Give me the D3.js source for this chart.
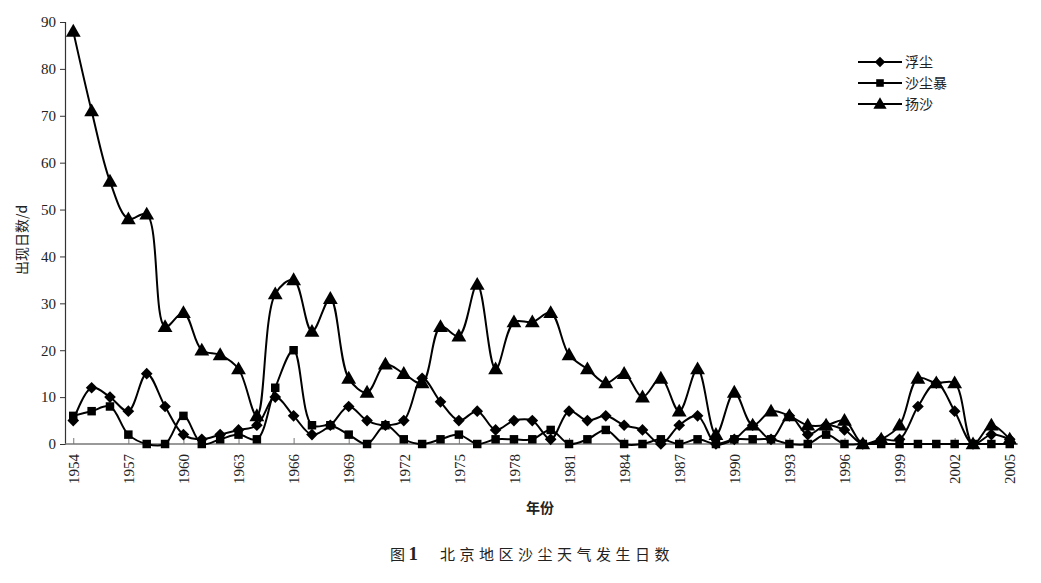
<!DOCTYPE html>
<html><head><meta charset="utf-8">
<script src="https://cdn.jsdelivr.net/npm/d3@7/dist/d3.min.js"></script>
<style>body{margin:0;background:#fff;}svg{display:block;}</style>
</head><body>
<svg id="chart" width="1041" height="583"></svg>
<script>
const years = d3.range(1954, 2006);
const fuchen = [5,12,10,7,15,8,2,1,2,3,4,10,6,2,4,8,5,4,5,14,9,5,7,3,5,5,1,7,5,6,4,3,0,4,6,0,1,4,1,6,2,4,3,0,1,1,8,13,7,0,2,1];
const shachenbao = [6,7,8,2,0,0,6,0,1,2,1,12,20,4,4,2,0,4,1,0,1,2,0,1,1,1,3,0,1,3,0,0,1,0,1,0,1,1,1,0,0,2,0,0,0,0,0,0,0,0,0,0];
const yangsha = [88,71,56,48,49,25,28,20,19,16,6,32,35,24,31,14,11,17,15,13,25,23,34,16,26,26,28,19,16,13,15,10,14,7,16,2,11,4,7,6,4,4,5,0,1,4,14,13,13,0,4,1];
const yTicks = d3.range(0, 100, 10);
const xTickYears = years.filter(y => (y - 1954) % 3 === 0 || y === 2005);
const seriesNames = ["浮尘", "沙尘暴", "扬沙"];

const svg = d3.select("#chart");
const x = d3.scalePoint().domain(years).range([65, 1018]).padding(0.45);
const y = d3.scaleLinear().domain([0, 90]).range([444, 22]);

const serif = "'Liberation Serif','DejaVu Serif',serif";
const cjk = "'Noto Sans CJK SC','Noto Sans CJK JP',sans-serif";

// Y axis
const yAx = svg.append("g").attr("transform", "translate(65,0)")
  .call(d3.axisLeft(y).tickValues(yTicks).tickSize(5).tickPadding(4));
yAx.select(".domain").attr("stroke", "#333").attr("stroke-width", 1.2);
yAx.selectAll(".tick line").attr("stroke", "#333");
yAx.selectAll("text").attr("font-family", serif).attr("font-size", 15).attr("fill", "#222");

// X axis
const xAx = svg.append("g").attr("transform", "translate(0,444)")
  .call(d3.axisBottom(x).tickValues(xTickYears).tickSize(-6).tickSizeOuter(0).tickPadding(0).tickFormat(d3.format("d")));
xAx.select(".domain").attr("stroke", "#777").attr("stroke-width", 1.5).attr("d", "M65,0H1018");
xAx.selectAll(".tick line").attr("stroke", "#777");
xAx.selectAll(".tick text")
  .attr("font-family", serif).attr("font-size", 15).attr("fill", "#222")
  .attr("transform", "rotate(-90)").attr("text-anchor", "end")
  .attr("x", -10).attr("y", 0).attr("dy", "0.35em");

// Axis titles
svg.append("text").attr("x", 540).attr("y", 513).attr("text-anchor", "middle")
  .attr("font-family", cjk).attr("font-weight", "bold").attr("font-size", 14).attr("fill", "#222").text("年份");
svg.append("text").attr("transform", "translate(27,240) rotate(-90)").attr("text-anchor", "middle")
  .attr("font-family", cjk).attr("font-size", 14).attr("fill", "#222").text("出现日数/d");

// Caption
const cap = svg.append("text").attr("x", 390).attr("y", 560).attr("font-family", cjk).attr("font-size", 15).attr("fill", "#222");
cap.append("tspan").text("图 ");
cap.append("tspan").attr("font-family", serif).attr("font-weight", "bold").attr("font-size", 19).text("1");
cap.append("tspan").attr("dx", 22).attr("letter-spacing", 4.5).text("北京地区沙尘天气发生日数");

// Lines
const line = d3.line().x((d, i) => x(years[i])).y(d => y(d)).curve(d3.curveCatmullRom.alpha(0.5));
const seriesData = [fuchen, shachenbao, yangsha];
const shapes = [d3.symbolSquare, d3.symbolSquare, d3.symbolTriangle];
const sizes = [68, 72, 95];
const rot = [45, 0, 0];
const dy = [0, 0, 1];
seriesData.forEach((vals) => {
  svg.append("path").datum(vals).attr("d", line).attr("fill", "none").attr("stroke", "#000").attr("stroke-width", 2);
});
seriesData.forEach((vals, k) => {
  svg.append("g").selectAll("path").data(vals).join("path")
    .attr("transform", (d, i) => `translate(${x(years[i])},${y(d) + dy[k]}) rotate(${rot[k]})`)
    .attr("d", d3.symbol().type(shapes[k]).size(sizes[k]))
    .attr("fill", "#000");
});

// Legend
const lg = svg.append("g");
seriesNames.forEach((name, k) => {
  const yy = 62 + k * 21;
  lg.append("line").attr("x1", 858).attr("x2", 902).attr("y1", yy).attr("y2", yy).attr("stroke", "#000").attr("stroke-width", 2);
  lg.append("path").attr("transform", `translate(880,${yy + dy[k]}) rotate(${rot[k]})`)
    .attr("d", d3.symbol().type(shapes[k]).size(sizes[k] * 0.8)).attr("fill", "#000");
  lg.append("text").attr("x", 905).attr("y", yy).attr("dy", "0.35em")
    .attr("font-family", cjk).attr("font-size", 14).attr("fill", "#222").text(name);
});
</script>
</body></html>
